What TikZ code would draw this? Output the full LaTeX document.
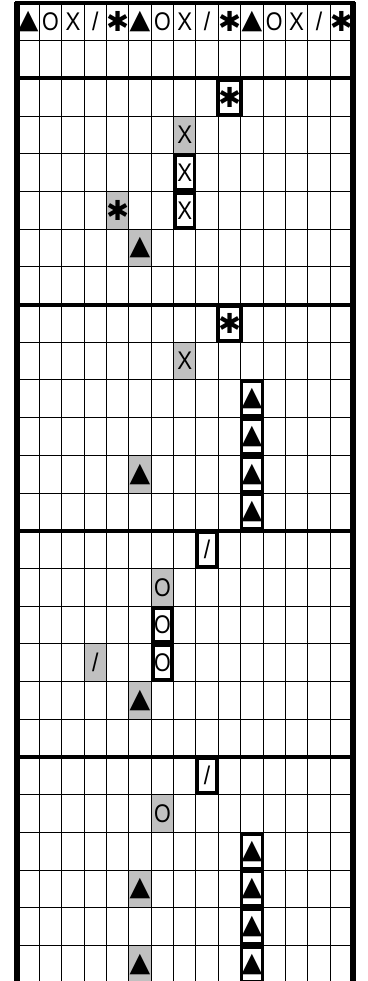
\documentclass[tikz,border=0pt]{standalone}
\usepackage{fontspec}
\usepackage{graphicx}
\usepackage{xcolor}
\usepackage{tikz}
\usetikzlibrary{positioning}

\newfontfamily\letfont{Liberation Sans}
\newfontfamily\symfont{DejaVu Sans}
\definecolor{cellgray}{HTML}{C0C0C0}

\newcommand{\gsize}{\fontsize{19.5}{19.5}\selectfont}
\newcommand{\gtri}{{\symfont\fontsize{20.5}{20.5}\selectfont ▲}}
\newcommand{\gstar}{{\symfont\fontsize{21}{21}\selectfont ✱}}
\newcommand{\gring}{\scalebox{0.84}[1]{\letfont\gsize O}}
\newcommand{\gcross}{\scalebox{0.87}[1]{\letfont\gsize X}}
\newcommand{\gslash}{\scalebox{0.9}[1]{\letfont\gsize /}}

\begin{document}
\begin{tikzpicture}[
    x=0.6cm, y=-1.011cm,
    glyph/.style={inner sep=0pt},
    graycell/.style={glyph, rectangle, fill=cellgray, minimum width=0.6cm, minimum height=1.011cm},
    boxcell/.style={glyph, rectangle, draw=black, fill=white, line width=2.6pt, minimum width=0.508cm, minimum height=0.919cm},
    gridline/.style={draw=black, line width=0.75pt},
    rule/.style={draw=black, line width=3pt, line cap=rect},
    border/.style={draw=black, line width=4.6pt}
]
    \useasboundingbox (-0.76,-0.079) rectangle (15.648,25.945);

    \foreach \c/\r/\s [count=\i] in {7/3/\gcross, 4/5/\gstar, 5/6/\gtri, 7/9/\gcross, 5/12/\gtri, 6/15/\gring, 3/17/\gslash, 5/18/\gtri, 6/21/\gring, 5/23/\gtri, 5/25/\gtri}
        \node [graycell] (g\i) at (\c+0.5,\r+0.5) {\s};

    \foreach \c in {1,...,14}
        \draw [gridline] (\c,0) -- (\c,26);
    \foreach \r in {1,...,25}
        \draw [gridline] (0,\r) -- (15,\r);
    \foreach \r in {0,2,8,14,20,26}
        \draw [rule] (0,\r) -- (15,\r);
    \draw [border] (0,-0.03) -- (0,26.03) (15,-0.03) -- (15,26.03);

    \foreach \s [count=\i from 0] in {\gtri,\gring,\gcross,\gslash,\gstar,\gtri,\gring,\gcross,\gslash,\gstar,\gtri,\gring,\gcross,\gslash,\gstar}
        \node [glyph] (h\i) at (\i+0.5,0.5) {\s};

    \foreach \c/\r/\s [count=\i] in {9/2/\gstar, 7/4/\gcross, 7/5/\gcross, 9/8/\gstar, 10/10/\gtri, 10/11/\gtri, 10/12/\gtri, 10/13/\gtri, 8/14/\gslash, 6/16/\gring, 6/17/\gring, 8/20/\gslash, 10/22/\gtri, 10/23/\gtri, 10/24/\gtri, 10/25/\gtri}
        \node [boxcell] (b\i) at (\c+0.5,\r+0.5) {\s};
\end{tikzpicture}
\end{document}
